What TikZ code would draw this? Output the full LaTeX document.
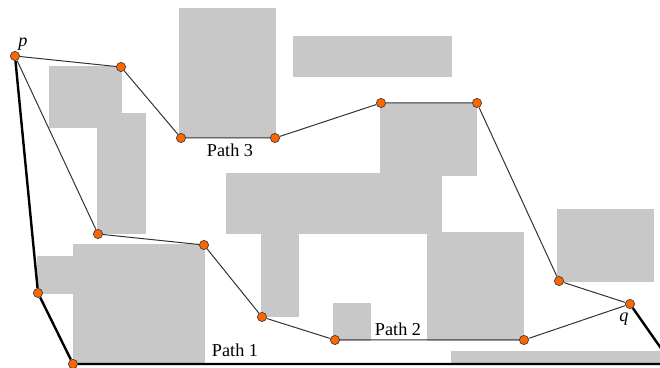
\documentclass[tikz,border=0pt]{standalone}
\usepackage{fontspec}
\setmainfont{Liberation Serif}
\definecolor{obst}{RGB}{200,200,200}
\definecolor{dotorange}{RGB}{255,102,0}
\tikzset{
  obstacle/.style={fill=obst, draw=none},
  waypt/.style={circle, inner sep=0pt, minimum size=4.6pt, fill=dotorange, draw=black!75, line width=0.35pt},
  route/.style={line width=0.5pt, black!80},
  best/.style={line width=1.2pt, black},
  lbl/.style={inner sep=0pt, font=\fontsize{9.1}{11}\selectfont}
}

\begin{document}
\begin{tikzpicture}[x=0.5pt, y=-0.5pt]
				\clip (0,0) rectangle (660,368);
				\useasboundingbox (0,0) rectangle (660,368);
				
				% obstacles
				\fill[obstacle] (179,8) rectangle (276,138);
				\fill[obstacle] (293,36) rectangle (452,77);
				\fill[obstacle] (49,66) rectangle (122,128);
				\fill[obstacle] (97,113) rectangle (146,234);
				\fill[obstacle] (380,103) rectangle (477,176);
				\fill[obstacle] (226,173) rectangle (442,234);
				\fill[obstacle] (261,233) rectangle (299,317);
				\fill[obstacle] (427,232) rectangle (524,341);
				\fill[obstacle] (333,303) rectangle (371,341);
				\fill[obstacle] (557,209) rectangle (654,282);
				\fill[obstacle] (451,351) rectangle (660,364);
				\fill[obstacle] (73,244) rectangle (205,364);
				\fill[obstacle] (37,256) rectangle (74,294);
				
				% way points
				\node[waypt] (p) at (15,56) {};
				\node[waypt] (q) at (630,304) {};
				
				\node[waypt] (a1) at (121,67) {};
				\node[waypt] (a2) at (181,138) {};
				\node[waypt] (a3) at (275,138) {};
				\node[waypt] (a4) at (381,103) {};
				\node[waypt] (a5) at (477,103) {};
				\node[waypt] (a6) at (559,281) {};
				
				\node[waypt] (b1) at (98,234) {};
				\node[waypt] (b2) at (204,245) {};
				\node[waypt] (b3) at (262,317) {};
				\node[waypt] (b4) at (335,340) {};
				\node[waypt] (b5) at (524,340) {};
				
				\node[waypt] (c1) at (38,293) {};
				\node[waypt] (c2) at (73,364) {};
				\coordinate (c3) at (672,364);
				
				% paths
				\draw[best] (p) -- (c1) -- (c2) -- (c3) -- (q);
				\draw[route] (p) -- (b1) -- (b2) -- (b3) -- (b4) -- (b5) -- (q);
				\draw[route] (p) -- (a1) -- (a2) -- (a3) -- (a4) -- (a5) -- (a6) -- (q);
				
				% labels
				\node[lbl] (plbl) at (23,44) {\textit{p}};
				\node[lbl] (qlbl) at (624,319) {\textit{q}};
				\node[lbl] (path1) at (235,350) {Path 1};
				\node[lbl] (path2) at (398,329) {Path 2};
				\node[lbl] (path3) at (230,150) {Path 3};
\end{tikzpicture}
\end{document}
